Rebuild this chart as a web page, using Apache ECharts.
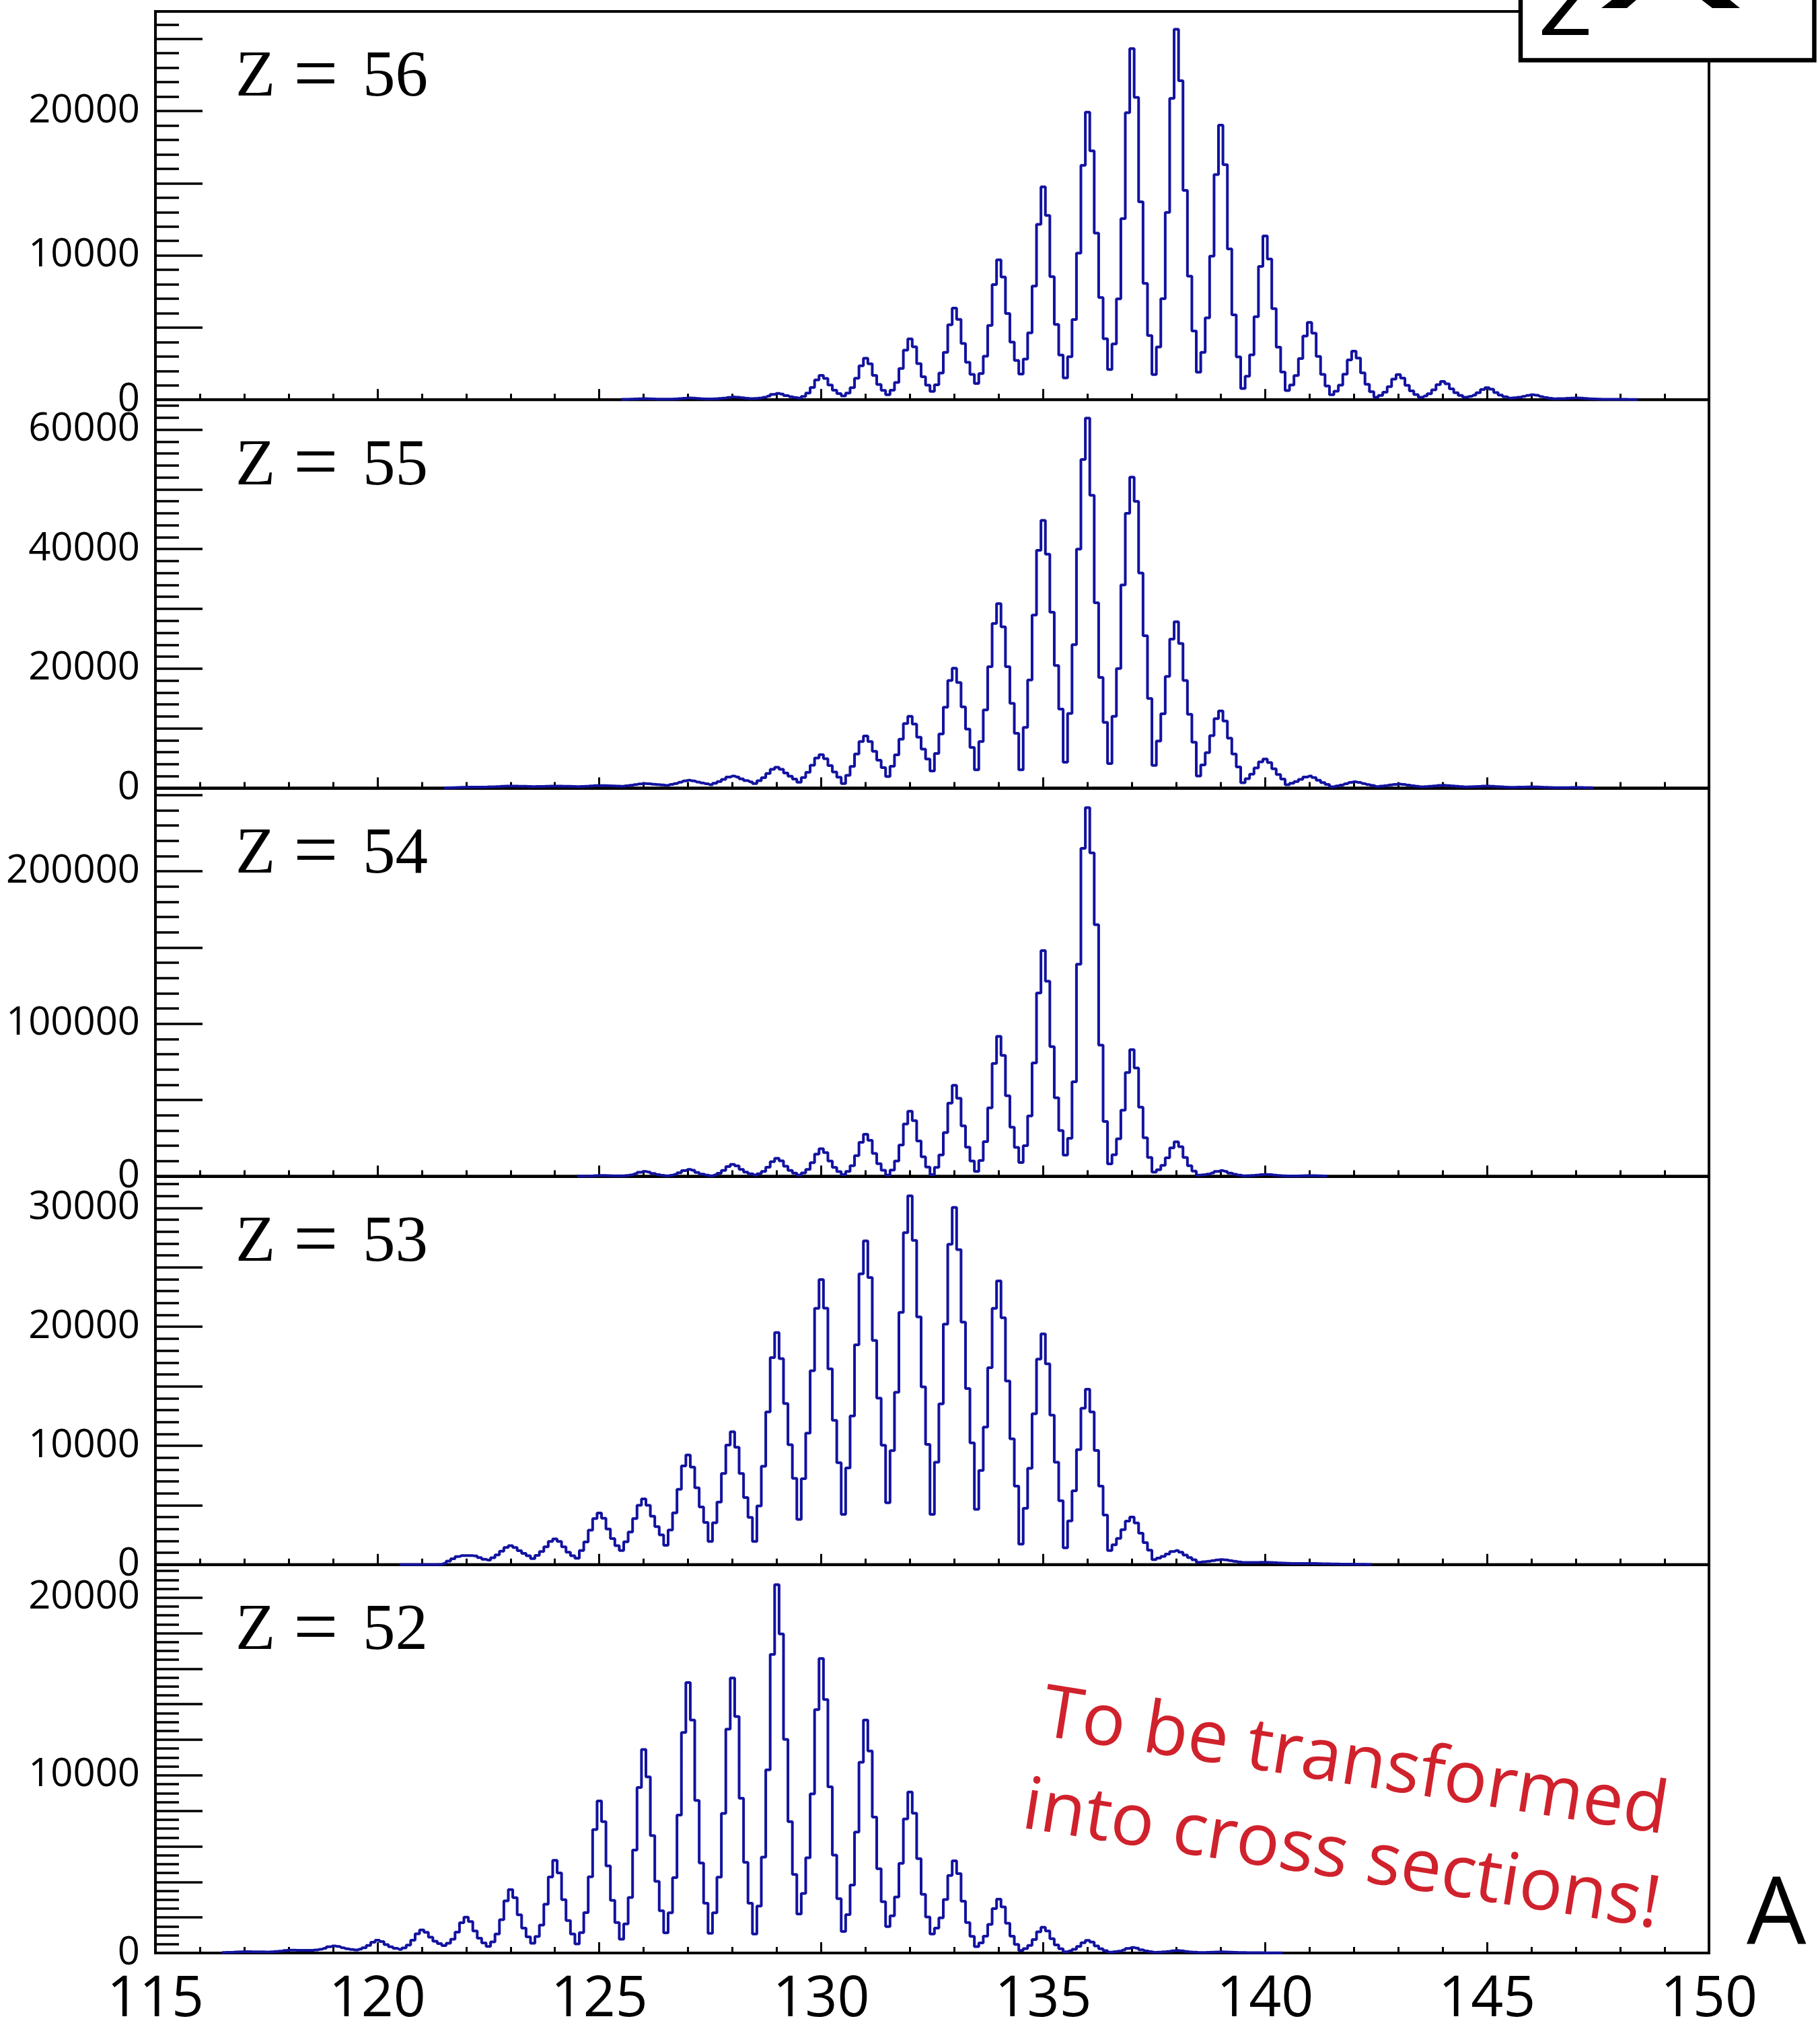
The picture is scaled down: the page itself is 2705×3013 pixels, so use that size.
<!DOCTYPE html>
<html><head><meta charset="utf-8">
<script src="https://cdn.jsdelivr.net/npm/echarts@6/dist/echarts.min.js"></script>
<style>html,body{margin:0;padding:0;background:#fff;}#c{width:2705px;height:3013px;}</style>
</head><body><div id="c"></div>
<script>
// ---- data: counts per 0.1-wide bin; each row = one mass number A, bins centred at A-0.5 ... A+0.4
const BIN = 0.1;
const Z_VALUES = ['56', '55', '54', '53', '52'];

const Z56_START = 126;
const Z56 = [
[30,34,40,52,68,80,72,60,48,40],
[40,48,60,80,108,130,115,92,70,55],
[60,70,88,120,160,190,170,135,100,80],
[90,118,167,254,370,440,390,285,202,150],
[110,236,458,853,1374,1690,1476,1018,660,432],
[260,469,834,1487,2348,2870,2492,1686,1056,652],
[350,659,1199,2164,3438,4210,3665,2502,1593,1011],
[575,1037,1846,3289,5195,6350,5567,3897,2592,1756],
[1130,1815,3013,5153,7978,9690,8503,5970,3991,2725],
[1775,2813,4630,7873,12155,14750,12764,8527,5217,3099],
[1510,2983,5560,10163,16238,19920,17246,11540,7082,4230],
[2090,3869,6983,12543,19882,24330,20942,13713,8065,4451],
[1740,3654,7002,12982,20876,25660,22098,14498,8560,4760],
[1910,3279,5674,9952,15598,19020,16284,10447,5887,2969],
[780,1626,3105,5748,9236,11350,9744,6316,3639,1925],
[640,1018,1678,2858,4416,5360,4609,3005,1753,951],
[350,591,1012,1765,2758,3360,2882,1863,1067,557],
[175,300,519,911,1427,1740,1505,1004,613,363],
[175,263,416,690,1051,1270,1106,755,482,306],
[175,228,320,485,703,835,728,499,320,206],
[120,138,171,228,304,350,308,218,148,104],
[70,75,83,98,118,130,116,88,65,51],
[40,38,36,34,32,30,28,26,24,22]
];

const Z55_START = 122;
const Z55 = [
[20,40,60,90,120,150,160,165,160,155],
[200,224,250,287,323,340,327,306,286,270],
[250,265,282,306,329,340,327,306,286,270],
[250,279,311,355,400,420,403,374,348,326],
[300,378,466,585,705,760,717,642,574,518],
[450,595,756,977,1198,1300,1195,1015,850,715],
[550,798,1076,1455,1835,2010,1835,1535,1260,1035],
[760,1222,1739,2446,3154,3480,3129,2526,1974,1522],
[970,1754,2630,3828,5027,5580,4905,3748,2688,1820],
[760,2115,3629,5701,7774,8730,7778,6146,4650,3426],
[1930,3642,5555,8173,10792,12000,10719,8523,6510,4863],
[2850,5776,9046,13520,17995,20060,17680,13600,9860,6800],
[3060,7789,13075,20308,27542,30880,26985,20308,14188,9180],
[3060,10158,18090,28945,39800,44810,39141,29424,20516,13228],
[4320,12500,24000,40000,55000,61930,49000,31000,18500,11000],
[4110,12000,20000,34000,46000,52030,48000,36000,25500,15000],
[3780,7867,12434,18685,24935,27820,24207,18012,12334,7688],
[2010,3865,5938,8774,11611,12920,11234,8345,5696,3529],
[880,1558,2316,3354,4391,4870,4265,3228,2278,1500],
[550,798,1076,1455,1835,2010,1757,1322,924,598],
[200,345,506,727,948,1050,938,746,570,426],
[250,321,401,510,620,670,604,491,388,303],
[200,244,294,361,429,460,421,354,292,242],
[180,207,238,279,321,340,309,256,208,168],
[120,134,149,170,190,200,180,147,116,91],
[60,67,74,85,95,100,92,77,64,53]
];

const Z54_START = 125;
const Z54 = [
[100,150,200,300,450,600,560,473,406,362],
[330,567,981,1721,2698,3290,2846,1899,1159,685],
[330,672,1269,2337,3746,4600,3960,2593,1526,842],
[330,936,1995,3888,6386,7900,6838,4572,2802,1670],
[820,1702,3244,6000,9636,11840,10187,6661,3906,2142],
[820,2201,4617,8932,14628,18080,15541,10123,5890,3182],
[1150,3268,6973,13591,22326,27620,23600,15024,8324,4036],
[820,4174,10042,20522,34356,42740,36502,23194,12795,6141],
[1150,5832,14027,28659,47974,59680,51222,33124,19079,10057],
[3290,10366,22749,44862,74050,91740,79335,52872,32196,18964],
[9040,20157,39611,74351,120208,148000,127896,85006,51498,30055],
[13970,25000,62000,139000,215000,241700,212000,165000,86000,36000],
[8220,14204,24676,43376,68060,83020,70987,45317,25262,12426],
[2800,4391,7176,12148,18712,22690,19410,12411,6944,3444],
[820,1057,1471,2211,3188,3780,3273,2191,1346,806],
[400,472,598,823,1120,1300,1143,807,544,376],
[250,270,305,368,450,500,448,336,248,192]
];

const Z53_START = 121;
const Z53 = [
[0,0,0,0,0,0,0,0,0,20],
[100,300,500,680,760,770,760,740,600,450],
[380,580,820,1140,1450,1600,1450,1180,950,750],
[510,780,1100,1500,1950,2170,1960,1500,1050,750],
[540,1190,1910,2900,3880,4340,3900,3000,2200,1600],
[1190,1930,2750,3880,4990,5530,4990,4070,3200,2500],
[1630,2920,4360,6340,8310,9220,8200,6460,4860,3550],
[1950,3520,5270,7670,10060,11170,9880,7670,5640,3980],
[1950,4940,8270,12840,17410,19520,17320,13550,10090,7260],
[3800,7230,11060,16310,21550,23970,21570,16470,12130,8570],
[4230,8140,12510,18480,24460,27220,24140,18850,14010,10040],
[5200,9590,14500,21210,27920,31020,27270,20840,14950,10120],
[4230,8620,13520,20230,26940,30040,26490,20400,14810,10240],
[4660,7920,11570,16560,21560,23860,20760,15450,10580,6600],
[1730,4740,8100,12690,17290,19410,16890,12570,8610,5370],
[1410,3680,6210,9680,13150,14750,12850,9600,6610,4170],
[1190,1670,2210,2940,3670,4010,3510,2650,1860,1220],
[430,560,700,900,1100,1190,1050,810,600,420],
[200,240,280,340,400,430,400,340,280,230],
[180,180,185,190,195,200,190,170,150,130],
[110,105,100,100,100,100,95,90,80,70],
[60,55,50,45,40,35,30,25,20,15]
];

const Z52_START = 117;
const Z52 = [
[30,34,41,54,70,80,77,70,64,62],
[60,68,82,107,140,160,158,155,152,151],
[150,170,205,268,350,400,366,292,234,198],
[170,214,291,429,610,720,642,476,346,262],
[200,288,442,717,1080,1300,1168,886,666,526],
[420,548,772,1172,1700,2020,1772,1244,832,568],
[370,626,1074,1874,2930,3570,3117,2151,1396,912],
[550,923,1575,2740,4278,5210,4505,3001,1826,1074],
[510,1145,2273,4288,6948,8560,7393,4903,2958,1714],
[780,1634,3127,5795,9316,11450,9904,6604,4027,2377],
[1140,2266,4238,7758,12404,15220,13104,8588,5061,2803],
[1110,2259,4269,7859,12598,15470,13310,8702,5102,2798],
[1070,2643,5395,10310,16798,20730,17951,12021,7388,4424],
[2200,3350,5361,8954,13696,16570,14266,9351,5511,3053],
[1210,2162,3828,6803,10730,13110,11367,7649,4744,2884],
[1490,2096,3155,5048,7546,9060,7862,5305,3307,2029],
[1070,1400,1976,3006,4366,5190,4465,2918,1709,935],
[355,569,944,1612,2495,3030,2597,1672,949,487],
[140,245,428,756,1188,1450,1243,801,456,236],
[70,121,211,371,582,710,611,400,235,129],
[50,71,107,172,258,310,270,183,116,72],
[40,48,62,87,120,140,124,88,61,43],
[30,33,38,45,56,70,60,45,35,28],
[25,22,20,18,15,12,10,8,6,5]
];

const STARTS = [Z56_START, Z55_START, Z54_START, Z53_START, Z52_START];
const ROWS = [Z56, Z55, Z54, Z53, Z52];

// axis scales (counts)
const X_MIN = 115, X_MAX = 150, X_STEP = 5;
const Y_MAX = [26900, 65000, 254500, 32650, 21850];
const Y_MINOR = [1000, 2000, 10000, 1000, 500];
const Y_MAJOR = [5000, 10000, 50000, 5000, 2000];
const Y_LABEL = [10000, 20000, 100000, 10000, 10000];

// ---- layout
const LEFT = 231, RIGHT = 2540, TOP0 = 17, PH = 577.2;
const N = ROWS.length;

function toPoints(start, rows) {
  const pts = [];
  rows.forEach((row, r) => row.forEach((v, k) => pts.push([+(start + r + (k - 5) * BIN).toFixed(2), v])));
  return pts;
}

const grids = [], xAxes = [], yAxes = [], series = [], graphics = [];
const tickStyle = { color: '#000', width: 3.5 };
for (let i = 0; i < N; i++) {
  const top = TOP0 + PH * i;
  grids.push({ left: LEFT, top: top, width: RIGHT - LEFT, height: PH, show: true,
    borderColor: '#000', borderWidth: 4, backgroundColor: '#fff', containLabel: false, outerBoundsMode: 'none' });
  xAxes.push({ gridIndex: i, type: 'value', min: X_MIN, max: X_MAX, interval: X_STEP, position: 'bottom',
    axisLine: { show: true, onZero: false, lineStyle: { color: '#000', width: 4 } },
    axisTick: { show: true, inside: true, length: 16, lineStyle: { color: '#000', width: 3 } },
    minorTick: { show: true, splitNumber: 5, length: 9, lineStyle: { color: '#000', width: 3 } },
    splitLine: { show: false }, minorSplitLine: { show: false },
    axisLabel: { show: i === N - 1, margin: 28, fontSize: 84, fontFamily: 'Open Sans', color: '#000' } });
  yAxes.push({ gridIndex: i, type: 'value', position: 'left', offset: 0, min: 0, max: Y_MAX[i], interval: Y_MINOR[i],
    axisLine: { show: false, onZero: false },
    axisTick: { show: true, inside: true, length: 35, lineStyle: tickStyle },
    axisLabel: { show: false }, splitLine: { show: false } });
  const lab = Y_LABEL[i];
  yAxes.push({ gridIndex: i, type: 'value', position: 'left', offset: 0, min: 0, max: Y_MAX[i], interval: Y_MAJOR[i],
    axisLine: { show: true, onZero: false, lineStyle: { color: '#000', width: 4 } },
    axisTick: { show: true, inside: true, length: 70, lineStyle: tickStyle },
    axisLabel: { show: true, margin: 23, fontSize: 58, fontFamily: 'Open Sans', color: '#000', padding: [16, 0, 0, 0],
      formatter: v => (Math.abs(v % lab) < 1e-6 ? String(v) : '') },
    splitLine: { show: false } });
  series.push({ type: 'line', xAxisIndex: i, yAxisIndex: 2 * i + 1, data: toPoints(STARTS[i], ROWS[i]),
    step: 'middle', symbol: 'none', showSymbol: false, clip: true, silent: true, z: 3,
    lineStyle: { color: '#1212a0', width: 4 } });

  // panel label "Z = xx"
  const midY = top + 100;
  const f = 'normal 97px "Liberation Serif"';
  graphics.push({ type: 'text', x: 350, y: midY, z: 50, style: { text: 'Z', font: f, fill: '#000', textAlign: 'left', align: 'left', textVerticalAlign: 'middle', verticalAlign: 'middle' } });
  graphics.push({ type: 'text', x: 436, y: midY + 1, z: 50, style: { text: '=', font: 'normal 118px "Liberation Serif"', fill: '#000', textAlign: 'left', align: 'left', textVerticalAlign: 'middle', verticalAlign: 'middle' } });
  graphics.push({ type: 'text', x: 539, y: midY, z: 50, style: { text: Z_VALUES[i], font: f, fill: '#000', textAlign: 'left', align: 'left', textVerticalAlign: 'middle', verticalAlign: 'middle' } });
}

// red note
const RF = 108;
graphics.push({ type: 'group', x: 1543, y: 2590, rotation: -9 * Math.PI / 180, z: 60, children: [
  { type: 'text', x: 0, y: -0.388 * RF, z: 60, style: { text: 'To be transformed', font: 'normal ' + RF + 'px "Open Sans"', fill: '#d0222c', textAlign: 'left', align: 'left', textVerticalAlign: 'middle', verticalAlign: 'middle' } },
  { type: 'text', x: -7, y: 140 - 0.388 * RF, z: 60, style: { text: 'into cross sections!', font: 'normal ' + RF + 'px "Open Sans"', fill: '#d0222c', textAlign: 'left', align: 'left', textVerticalAlign: 'middle', verticalAlign: 'middle' } }
] });

// axis title "A"
graphics.push({ type: 'text', x: 2596, y: 2904 - 0.388 * 140, z: 60, style: { text: 'A', font: 'normal 140px "Open Sans"', fill: '#000', textAlign: 'left', align: 'left', textVerticalAlign: 'middle', verticalAlign: 'middle' } });

// clipped title box in the top-right corner
graphics.push({ type: 'rect', z: 70, shape: { x: 2260, y: -20, width: 436.5, height: 109.5 }, style: { fill: '#fff', stroke: '#000', lineWidth: 6.5 } });
graphics.push({ type: 'polygon', z: 71, shape: { points: [[2292, 52], [2361, 52], [2361, 43], [2309, 43], [2346, -2], [2331, -2], [2292, 45]] }, style: { fill: '#000' } });
graphics.push({ type: 'polygon', z: 71, shape: { points: [[2380, 12], [2418, 12], [2433, -1], [2397, -1]] }, style: { fill: '#000' } });
graphics.push({ type: 'polygon', z: 71, shape: { points: [[2545, 12], [2586, 12], [2570, -1], [2528, -1]] }, style: { fill: '#000' } });

const chart = echarts.init(document.getElementById('c'), null, { renderer: 'canvas', width: 2705, height: 3013 });
chart.setOption({
  animation: false,
  backgroundColor: '#fff',
  grid: grids, xAxis: xAxes, yAxis: yAxes, series: series, graphic: graphics
});
</script></body></html>
